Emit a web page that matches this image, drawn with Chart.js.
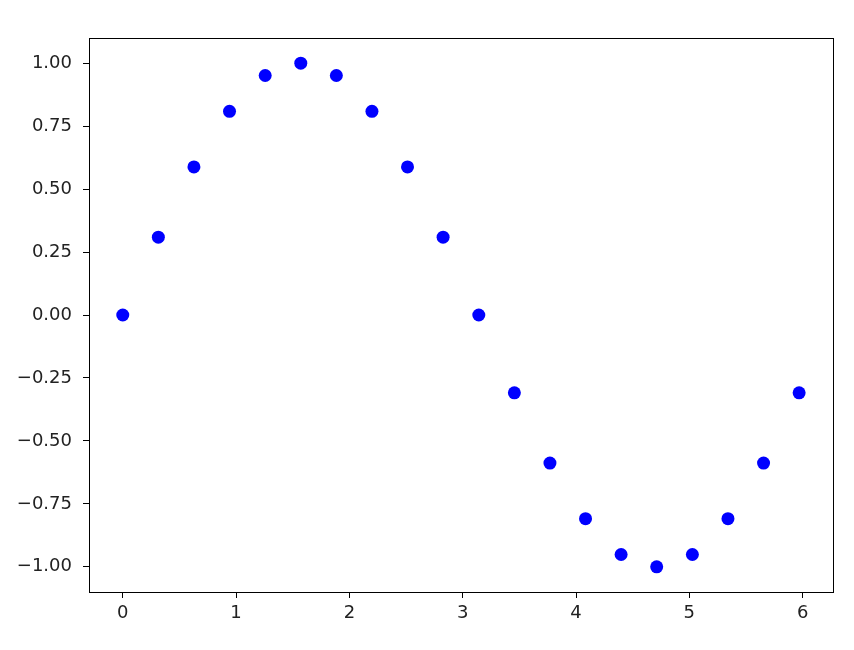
<!DOCTYPE html>
<html>
<head>
<meta charset="utf-8">
<script src="https://cdn.jsdelivr.net/npm/chart.js@4"></script>
<style>
  html, body { margin: 0; padding: 0; background: #fff; }
  canvas { display: block; }
</style>
</head>
<body>
<canvas id="chart" width="854" height="650"></canvas>
<script>
const xValues = [0, 0.314, 0.628, 0.942, 1.257, 1.571, 1.885, 2.199, 2.513, 2.827,
                 3.142, 3.456, 3.770, 4.084, 4.398, 4.712, 5.027, 5.341, 5.655, 5.969];
const yValues = [0, 0.309, 0.588, 0.809, 0.951, 1.0, 0.951, 0.809, 0.588, 0.309,
                 0, -0.309, -0.588, -0.809, -0.951, -1.0, -0.951, -0.809, -0.588, -0.309];
const xTicks = [0, 1, 2, 3, 4, 5, 6];
const yTicks = [-1, -0.75, -0.5, -0.25, 0, 0.25, 0.5, 0.75, 1];

const points = xValues.map((x, i) => ({ x, y: yValues[i] }));

function fmt(v, digits){ return v.toFixed(digits).replace("-", "\u2212"); }

// matplotlib-style box around the axes
const frame = {
  id: "frame",
  afterDraw(chart){
    const { ctx, chartArea: a } = chart;
    ctx.save();
    ctx.strokeStyle = "#000";
    ctx.lineWidth = 1;
    ctx.strokeRect(Math.round(a.left) + 0.5, Math.round(a.top) + 0.5,
                   Math.round(a.right - a.left), Math.round(a.bottom - a.top));
    ctx.restore();
  }
};

const tickFont = { family: "'DejaVu Sans', sans-serif", size: 18 };

new Chart(document.querySelector("#chart"), {
  type: "scatter",
  data: {
    datasets: [{
      data: points,
      backgroundColor: "#0000ff",
      borderWidth: 0,
      pointRadius: 6.5,
      pointHoverRadius: 6.5
    }]
  },
  options: {
    responsive: false,
    animation: false,
    events: [],
    layout: { padding: { top: 38, right: 21, left: 0, bottom: 0 } },
    plugins: { legend: { display: false }, tooltip: { enabled: false } },
    scales: {
      x: {
        type: "linear",
        min: -0.298,
        max: 6.268,
        afterFit(scale){ scale.height = 58; },
        afterBuildTicks(scale){ scale.ticks = xTicks.map(v => ({ value: v })); },
        grid: { drawOnChartArea: false, drawTicks: true, tickLength: 6, color: "#000", tickColor: "#000" },
        border: { display: false },
        ticks: { color: "#222", font: tickFont, padding: 5, maxRotation: 0, callback: v => fmt(v, 0) }
      },
      y: {
        type: "linear",
        min: -1.1,
        max: 1.1,
        afterFit(scale){ scale.width = 89; },
        afterBuildTicks(scale){ scale.ticks = yTicks.map(v => ({ value: v })); },
        grid: { drawOnChartArea: false, drawTicks: true, tickLength: 6, color: "#000", tickColor: "#000" },
        border: { display: false },
        ticks: { color: "#222", font: tickFont, padding: 11, callback: v => fmt(v, 2) }
      }
    }
  },
  plugins: [frame]
});
</script>
</body>
</html>
